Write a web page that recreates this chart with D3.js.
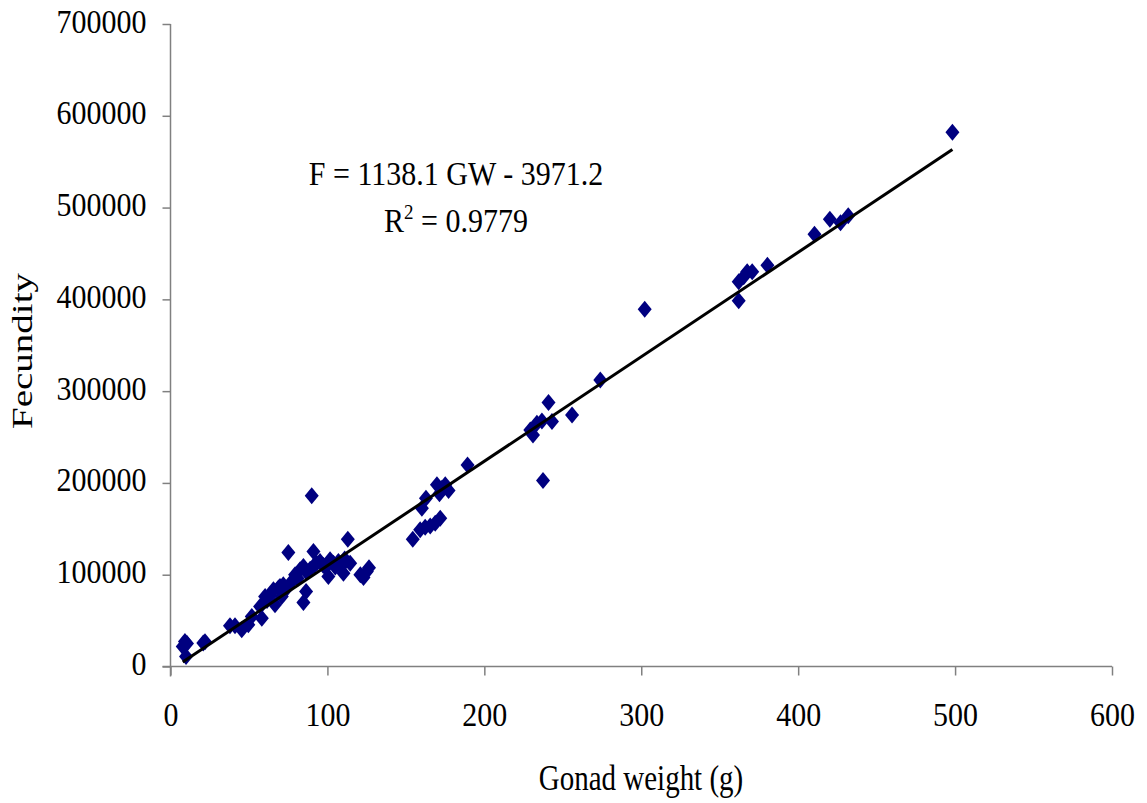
<!DOCTYPE html>
<html>
<head>
<meta charset="utf-8">
<script src="https://cdn.jsdelivr.net/npm/d3@7"></script>
<style>
  body { margin: 0; background: #fff; }
  text { font-family: "Liberation Serif", "Times New Roman", serif; fill: #000; }
</style>
</head>
<body>
<script>
var width = 1147;
var height = 803;

// gonad weight (g)
var gonadWeight = [7.8, 9.2, 9.9, 10.5, 20.9, 22, 37.9, 41.1, 45.4, 49.6,
  51.8, 57.1, 58.2, 60.3, 61.5, 63.5, 65.6, 66.6, 68.8, 69.8,
  70.9, 71.9, 73.5, 75.1, 77, 79.4, 81, 82.6, 84.7, 84.7,
  86.4, 86.6, 89, 90, 91.1, 91.5, 93.2, 95.3, 97.4, 99,
  100.6, 101.7, 103.8, 105, 107, 109.2, 110.2, 111, 113, 114.5,
  121, 123, 125.1, 126.5, 154.4, 159.1, 160.2, 162.3, 162.8, 165.5,
  168.7, 169.8, 171.4, 171.9, 173, 175.1, 177.2, 189.3, 229.3, 231,
  233.5, 236.7, 237.4, 240.9, 243.1, 255.9, 273.9, 302.2, 362.1, 362.1,
  365.3, 367.5, 370.7, 380.4, 410.4, 420.2, 427, 431.9, 498.3];

// fecundity (number of eggs)
var fecundity = [21800, 27200, 10900, 25000, 25500, 27000, 44300, 44300, 40000, 45400,
  54500, 65300, 52700, 76200, 72000, 78100, 83500, 67200, 85400, 87100,
  76200, 89000, 84000, 124100, 92000, 99900, 96000, 105300, 69700, 108900,
  81700, 103000, 106000, 185900, 125200, 110000, 112600, 114300, 110000, 108000,
  98000, 116200, 112600, 108500, 114300, 110000, 101700, 117000, 138700, 112600,
  99900, 97000, 103500, 107500, 138700, 148900, 172500, 151800, 183400, 153200,
  156200, 197900, 188100, 161600, 194300, 197900, 191700, 219600, 257800, 252300,
  265000, 267600, 202600, 287500, 266800, 274100, 312200, 389200, 398600, 419300,
  424700, 430200, 430200, 437100, 470900, 487200, 483500, 491100, 582000];

var xTicks = [0, 100, 200, 300, 400, 500, 600];
var yTicks = [0, 100000, 200000, 300000, 400000, 500000, 600000, 700000];

// trend line from the equation printed on the chart
var slope = 1138.1;
var intercept = -3971.2;
var eqLabel = "F = 1138.1 GW - 3971.2";
var r2Value = "0.9779";

var points = gonadWeight.map(function(g, i) { return {gw: g, f: fecundity[i]}; });

var svg = d3.select("body").append("svg").attr("width", width).attr("height", height);

var x = d3.scaleLinear().domain([0, 600]).range([170.5, 1112]);
var y = d3.scaleLinear().domain([0, 700000]).range([666.5, 24]);

var vs = 1.15; // the original text is a bit stretched vertically

// x axis
var xAxis = svg.append("g")
  .attr("transform", "translate(0," + y(0) + ")")
  .call(d3.axisBottom(x).tickValues(xTicks).tickSize(9).tickSizeOuter(0));
xAxis.select(".domain").attr("stroke", "#808080").attr("stroke-width", 1.5).attr("d", "M" + (x(0) - 8) + ",0H" + x(600));
xAxis.selectAll(".tick line").attr("stroke", "#808080").attr("stroke-width", 1.5);
xAxis.selectAll(".tick text")
  .attr("font-size", 30).attr("y", 60 / vs).attr("dy", 0)
  .attr("transform", "scale(1," + vs + ")")
  .style("font-family", "'Liberation Serif', serif");

// y axis
var yAxis = svg.append("g")
  .attr("transform", "translate(" + x(0) + ",0)")
  .call(d3.axisLeft(y).tickValues(yTicks).tickSize(8).tickSizeOuter(0).tickFormat(d3.format("d")));
yAxis.select(".domain").attr("stroke", "#808080").attr("stroke-width", 1.5).attr("d", "M0," + y(700000) + "V" + (y(0) + 10));
yAxis.selectAll(".tick line").attr("stroke", "#808080").attr("stroke-width", 1.5);
yAxis.selectAll(".tick text")
  .attr("font-size", 30).attr("x", -24).attr("dy", 0).attr("y", 0)
  .attr("transform", "translate(0,8) scale(1," + vs + ")")
  .style("font-family", "'Liberation Serif', serif");

// markers
svg.append("g").selectAll("path")
  .data(points)
  .enter().append("path")
  .attr("d", "M0,-8.5L7,0L0,8.5L-7,0Z")
  .attr("fill", "#000080")
  .attr("transform", function(d) { return "translate(" + x(d.gw) + "," + y(d.f) + ")"; });

// linear trend line
var gwExtent = d3.extent(gonadWeight);
svg.append("line")
  .attr("x1", x(gwExtent[0])).attr("y1", y(slope * gwExtent[0] + intercept))
  .attr("x2", x(gwExtent[1])).attr("y2", y(slope * gwExtent[1] + intercept))
  .attr("stroke", "#000").attr("stroke-width", 3);

// equation
svg.append("text")
  .attr("transform", "translate(456,185) scale(1," + vs + ")")
  .attr("text-anchor", "middle").attr("font-size", 30)
  .text(eqLabel);
var r2 = svg.append("text")
  .attr("transform", "translate(456,232) scale(1," + vs + ")")
  .attr("text-anchor", "middle").attr("font-size", 30);
r2.append("tspan").text("R");
r2.append("tspan").attr("font-size", 19).attr("dy", -11).text("2");
r2.append("tspan").attr("dy", 11).text(" = " + r2Value);

// axis titles
svg.append("text")
  .attr("transform", "translate(641,790) scale(1,1.2)")
  .attr("text-anchor", "middle").attr("font-size", 29)
  .text("Gonad weight (g)");
svg.append("text")
  .attr("transform", "translate(32,351) rotate(-90) scale(1.3,1)")
  .attr("text-anchor", "middle").attr("font-size", 30)
  .text("Fecundity");
</script>
</body>
</html>
